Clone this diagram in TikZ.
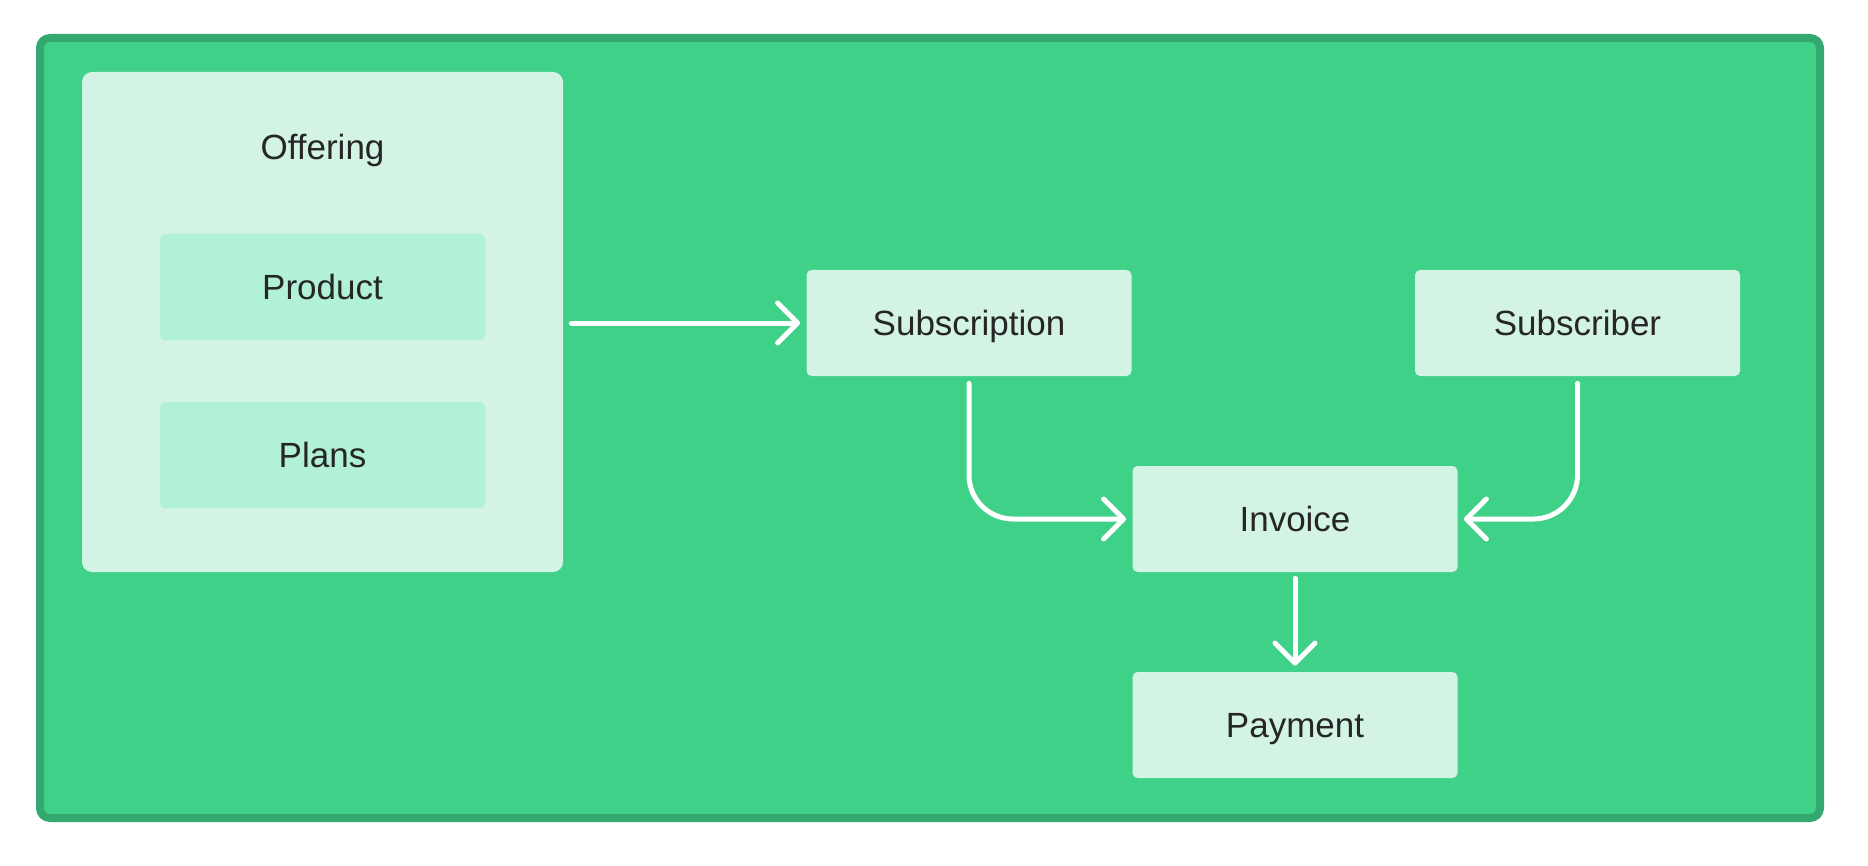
\documentclass[tikz,border=0pt]{standalone}
\usepackage{fontspec}
\setmainfont{Liberation Sans}
\usetikzlibrary{arrows.meta,calc}
\definecolor{bggreen}{HTML}{40D189}
\definecolor{framegreen}{HTML}{33A970}
\definecolor{lightbox}{HTML}{D3F3E4}
\definecolor{midbox}{HTML}{B1F1D7}
\definecolor{txt}{HTML}{262626}
\tikzset{
  lbl/.style={text=txt, font=\fontsize{17.5pt}{20pt}\selectfont, text height=12.5pt, text depth=0pt},
  card/.style={lbl, fill=lightbox, draw=none, rounded corners=2.5pt, minimum width=162.5pt, minimum height=53pt, inner sep=0pt},
  subcard/.style={card, fill=midbox},
  conn/.style={draw=white, line width=2.5pt, line cap=round, line join=round, -{Straight Barb[length=10pt,width=20pt,round]}},
}
\begin{document}
\begin{tikzpicture}[x=0.5pt,y=-0.5pt]
\useasboundingbox (0,0) rectangle (1868,866);
% frame
\draw[draw=framegreen, fill=bggreen, line width=4pt, rounded corners=5pt] (40,38) rectangle (1820,818);
% offering container
\node[fill=lightbox, rounded corners=5pt, minimum width=240.5pt, minimum height=250pt, inner sep=0pt] (offering) at (322.5,322) {};
\node[lbl] (offeringlabel) at (322.5,147) {Offering};
\node[subcard] (product) at (322.5,287) {Product};
\node[subcard] (plans) at (322.5,455) {Plans};
% main cards
\node[card] (subscription) at (969,323) {Subscription};
\node[card] (subscriber) at (1577.5,323) {Subscriber};
\node[card] (invoice) at (1295,519) {Invoice};
\node[card] (payment) at (1295,725) {Payment};
% connectors
\draw[conn] ([xshift=4pt]offering.east |- subscription.west) -- ([xshift=-3pt]subscription.west);
\draw[conn, rounded corners=22pt] ([yshift=-3.5pt]subscription.south) |- ([xshift=-3pt]invoice.west);
\draw[conn, rounded corners=22pt] ([yshift=-3.5pt]subscriber.south) |- ([xshift=3pt]invoice.east);
\draw[conn] ([yshift=-3pt]invoice.south) -- ([yshift=3pt]payment.north);
\end{tikzpicture}
\end{document}
